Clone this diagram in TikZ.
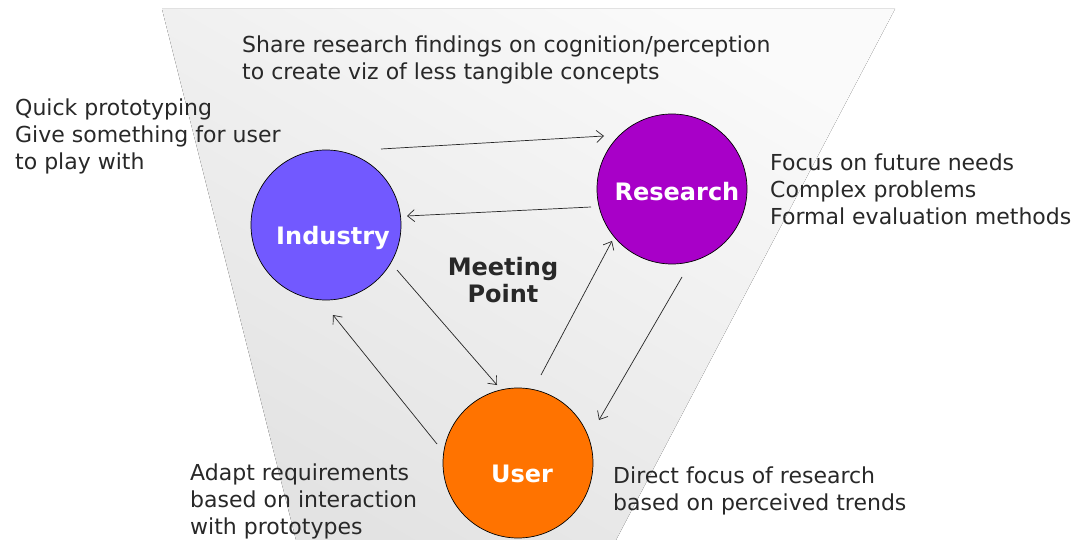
\documentclass[tikz,border=0pt]{standalone}
\usepackage{fontspec}
\setmainfont{DejaVu Sans}
\usetikzlibrary{arrows.meta}
\definecolor{indcol}{RGB}{114,89,255}
\definecolor{rescol}{RGB}{168,0,200}
\definecolor{usrcol}{RGB}{255,115,0}
\definecolor{txtcol}{RGB}{40,40,40}
\begin{document}
\begin{tikzpicture}[x=1pt,y=-1pt,
  ball/.style={circle, draw=black, line width=0.7pt, minimum size=150pt, inner sep=0pt},
  blabel/.style={font=\fontsize{24}{27}\selectfont\bfseries, text=white, inner sep=0pt, anchor=base},
  note/.style={font=\fontsize{22}{27}\selectfont, text=txtcol, align=left, inner sep=0pt, anchor=base west},
  link/.style={-{Straight Barb[length=7pt,width=12pt]}, line width=0.7pt, draw=black!85}]
\useasboundingbox (0,0) rectangle (1074,540);
\fill[top color=black!2, bottom color=black!11, shading angle=-30] (162,9) -- (895,9) -- (616,540) -- (296,540) -- cycle;

\node[ball, fill=indcol] (ind) at (326,225) {};
\node[ball, fill=rescol] (res) at (672,189) {};
\node[ball, fill=usrcol] (usr) at (518,463) {};

\node[blabel] (indl) at (333,244) {Industry};
\node[blabel] (resl) at (677,201) {Research};
\node[blabel] (usrl) at (522,482) {User};
\node[blabel, text=txtcol, align=center] (meet) at (503,302) {Meeting\\Point};

\coordinate (a1s) at (381,149); \coordinate (a1e) at (604,136);
\coordinate (a2s) at (591,207); \coordinate (a2e) at (407,216);
\coordinate (a3s) at (397,270); \coordinate (a3e) at (497,385);
\coordinate (a4s) at (541,375); \coordinate (a4e) at (612,241);
\coordinate (a5s) at (682,277); \coordinate (a5e) at (599,420);
\coordinate (a6s) at (437,444); \coordinate (a6e) at (333,315);
\draw[link] (a1s) -- (a1e);
\draw[link] (a2s) -- (a2e);
\draw[link] (a3s) -- (a3e);
\draw[link] (a4s) -- (a4e);
\draw[link] (a5s) -- (a5e);
\draw[link] (a6s) -- (a6e);

\node[note] (n1) at (242,80) {Share research findings on cognition/perception\\to create viz of less tangible concepts};
\node[note] (n2) at (15,170) {Quick prototyping\\Give something for user\\to play with};
\node[note] (n3) at (770,225) {Focus on future needs\\Complex problems\\Formal evaluation methods};
\node[note] (n4) at (190,534) {Adapt requirements\\based on interaction\\with prototypes};
\node[note] (n5) at (613,510) {Direct focus of research\\based on perceived trends};
\end{tikzpicture}
\end{document}
